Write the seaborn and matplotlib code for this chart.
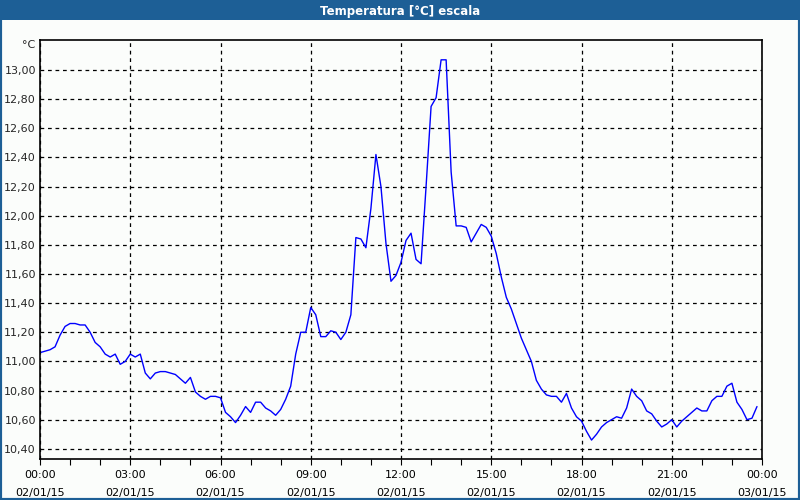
import seaborn as sns
import matplotlib.pyplot as plt
import matplotlib.dates as mdates
import matplotlib.ticker as mticker
from matplotlib.patches import Rectangle
import pandas as pd

# 10-minute readings, 02/01/15 00:00 .. 23:50
temps = [
    11.06, 11.07, 11.08, 11.10, 11.18, 11.24, 11.26, 11.26, 11.25, 11.25,
    11.20, 11.13, 11.10, 11.05, 11.03, 11.05, 10.98, 11.00, 11.05, 11.03,
    11.05, 10.92, 10.88, 10.92, 10.93, 10.93, 10.92, 10.91, 10.88, 10.85,
    10.89, 10.79, 10.76, 10.74, 10.76, 10.76, 10.75, 10.65, 10.62, 10.58,
    10.63, 10.69, 10.65, 10.72, 10.72, 10.68, 10.66, 10.63, 10.67, 10.74,
    10.83, 11.05, 11.20, 11.20, 11.37, 11.32, 11.17, 11.17, 11.21, 11.20,
    11.15, 11.20, 11.32, 11.85, 11.84, 11.78, 12.05, 12.42, 12.20, 11.81,
    11.55, 11.59, 11.68, 11.83, 11.88, 11.70, 11.67, 12.20, 12.75, 12.81,
    13.07, 13.07, 12.30, 11.93, 11.93, 11.92, 11.82, 11.88, 11.94, 11.92,
    11.86, 11.74, 11.58, 11.44, 11.36, 11.26, 11.16, 11.08, 11.00, 10.87,
    10.81, 10.77, 10.76, 10.76, 10.72, 10.78, 10.68, 10.62, 10.59, 10.52,
    10.46, 10.50, 10.55, 10.58, 10.60, 10.62, 10.61, 10.68, 10.81, 10.76,
    10.73, 10.66, 10.64, 10.59, 10.55, 10.57, 10.60, 10.55, 10.59, 10.62,
    10.65, 10.68, 10.66, 10.66, 10.73, 10.76, 10.76, 10.83, 10.85, 10.72,
    10.67, 10.60, 10.61, 10.69,
]
times = pd.date_range("2015-01-02 00:00", periods=len(temps), freq="10min")
df = pd.DataFrame({"time": times, "temp": temps})

title = "Temperatura [°C] escala"
unit = "°C"
y_ticks = [10.4, 10.6, 10.8, 11.0, 11.2, 11.4, 11.6, 11.8, 12.0, 12.2, 12.4, 12.6, 12.8, 13.0]

sns.set_style("white")
plt.rcParams["font.family"] = ["DejaVu Sans"]

bg = "#fbfdfb"
bar = "#1d5f96"
fig = plt.figure(figsize=(8, 5), dpi=100, facecolor=bg)
ax = fig.add_axes([0.05, 0.082, 0.9025, 0.838])
ax.set_facecolor(bg)

sns.lineplot(data=df, x="time", y="temp", color="#0000ff", linewidth=1, ax=ax)

ax.set_xlim(pd.Timestamp("2015-01-02 00:00"), pd.Timestamp("2015-01-03 00:00"))
ax.set_ylim(10.33, 13.206)
ax.set_yticks(y_ticks)
ax.yaxis.set_major_formatter(mticker.FuncFormatter(lambda v, p: f"{v:.2f}".replace(".", ",")))
ax.xaxis.set_major_locator(mdates.HourLocator(byhour=range(0, 24, 3)))
ax.xaxis.set_minor_locator(mdates.HourLocator())
ax.xaxis.set_major_formatter(mdates.DateFormatter("%H:%M\n%d/%m/%y"))

ax.grid(True, which="major", color="black", linestyle=(0, (3, 3)), linewidth=0.9)
ax.tick_params(axis="x", which="both", direction="out", length=4, width=0.8,
               colors="black", labelsize=8, pad=4, bottom=True)
ax.tick_params(axis="y", which="both", length=0, labelsize=8, pad=3, left=False)
for lab in ax.get_xticklabels():
    lab.set_linespacing(1.95)
for s in ax.spines.values():
    s.set_visible(True)
    s.set_color("black")
    s.set_linewidth(1.2)
ax.set_xlabel("")
ax.set_ylabel("")

fig.text(0.036, 0.91, unit, fontsize=8, ha="center", va="center")

fig.patches.append(Rectangle((0, 0.96), 1, 0.04, transform=fig.transFigure,
                             facecolor=bar, edgecolor="none", zorder=0))
fig.patches.append(Rectangle((0, 0), 1, 1, transform=fig.transFigure,
                             facecolor="none", edgecolor=bar, linewidth=3, zorder=0))
fig.text(0.5, 0.978, title, color="white", fontsize=8.5, fontweight="bold",
         ha="center", va="center")

fig.savefig("out.png", dpi=100, facecolor=bg)
